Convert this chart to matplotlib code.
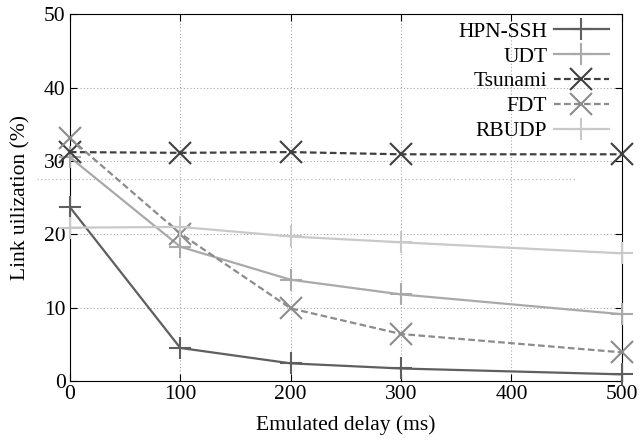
import numpy as np
import matplotlib.pyplot as plt

plt.rcParams['font.family'] = ['Liberation Serif', 'DejaVu Serif']
plt.rcParams['font.size'] = 15.5

# delay (ms) vs link utilization (%)
delay = [0, 100, 200, 300, 500]
hpn_ssh = [23.7, 4.5, 2.4, 1.7, 0.9]
udt = [30.5, 18.3, 13.8, 11.8, 9.1]
tsunami = [31.2, 31.1, 31.2, 30.9, 30.9]
fdt = [33.1, 20.1, 9.9, 6.4, 3.9]
rbudp = [20.9, 21.0, 19.7, 18.9, 17.4]

x_ticks = [0, 100, 200, 300, 400, 500]
y_ticks = [0, 10, 20, 30, 40, 50]

fig = plt.figure(figsize=(6.41, 4.44), dpi=100)
ax = fig.add_axes([0.109, 0.142, 0.861, 0.826])

series = [
    ('HPN-SSH', hpn_ssh, '#5f5f5f', '-', '+'),
    ('UDT', udt, '#a9a9a9', '-', '+'),
    ('Tsunami', tsunami, '#404040', (0, (3, 1.5)), 'x'),
    ('FDT', fdt, '#8c8c8c', (0, (3, 1.5)), 'x'),
    ('RBUDP', rbudp, '#c9c9c9', '-', '+'),
]
for name, vals, col, ls, mk in series:
    ax.plot(delay, vals, color=col, ls=ls, lw=1.6, marker=mk, ms=16,
            mew=1.5, label=name, clip_on=False, zorder=3)

ax.set_xlim(0, 500)
ax.set_ylim(0, 50)
ax.set_xticks(x_ticks)
ax.set_yticks(y_ticks)
ax.grid(True, ls=(0, (1, 2)), color='#aaaaaa', lw=0.8)
ax.tick_params(direction='in', top=True, right=True, length=5, pad=3)

# stray dotted rule across the plot
ax.axhline(27.5, xmin=-0.06, xmax=0.915, ls=(0, (1, 2)), color='#bbbbbb',
           lw=0.9, clip_on=False)

ax.set_xlabel('Emulated delay (ms)', labelpad=8)
ax.set_ylabel('Link uilization (%)', labelpad=10)

ax.legend(loc='upper right', frameon=False, markerfirst=False,
          handlelength=2.55, labelspacing=0.22, borderaxespad=0.0,
          borderpad=0.3, handletextpad=0.3,
          bbox_to_anchor=(0.988, 0.997))

fig.savefig('out.png', dpi=100)
